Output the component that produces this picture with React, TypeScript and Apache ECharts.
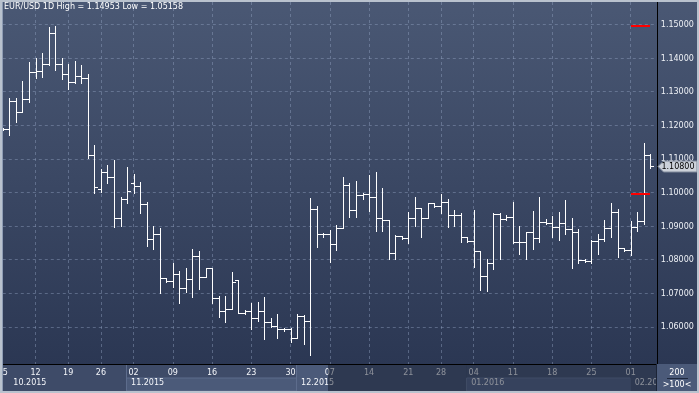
import React, { useEffect, useRef } from "react";
import * as echarts from "echarts";

const TITLE = "EUR/USD 1D High = 1.14953 Low = 1.05158";

const OPEN = [
  1.1189, 1.119, 1.1272, 1.1239, 1.1277, 1.136, 1.1363, 1.1382, 1.1474, 1.1382,
  1.1352, 1.133, 1.1348, 1.134, 1.1111, 1.101, 1.1061, 1.1045, 1.0924, 1.0981,
  1.1027, 1.1018, 1.0965, 1.0861, 1.0876, 1.0745, 1.0738, 1.0757, 1.0715, 1.0742,
  1.081, 1.0749, 1.0774, 1.0685, 1.0646, 1.0652, 1.074, 1.0642, 1.0646, 1.0626,
  1.0646, 1.0615, 1.0604, 1.0593, 1.0593, 1.0566, 1.0632, 1.0617, 1.095, 1.0877,
  1.0877, 1.0846, 1.0893, 1.1022, 1.0948, 1.0993, 1.0995, 1.0986, 1.0923, 1.0917,
  1.0819, 1.0871, 1.0866, 1.0923, 1.0953, 1.0923, 1.0968, 1.0961, 1.0973, 1.0934,
  1.0932, 1.0867, 1.0855, 1.0827, 1.0751, 1.0791, 1.0936, 1.092, 1.0926, 1.0852,
  1.0854, 1.0882, 1.0864, 1.0913, 1.091, 1.0898, 1.091, 1.089, 1.0883, 1.0799,
  1.0795, 1.0856, 1.0861, 1.0893, 1.0941, 1.0834, 1.0829, 1.0896, 1.0914, 1.1112,
];
const HIGH = [
  1.1192, 1.1282, 1.1282, 1.1332, 1.1389, 1.1399, 1.1414, 1.1492, 1.1495, 1.1399,
  1.1382, 1.1391, 1.1379, 1.1352, 1.1141, 1.1069, 1.1082, 1.1097, 1.0986, 1.1075,
  1.1055, 1.1031, 1.0972, 1.09, 1.0894, 1.0745, 1.079, 1.0766, 1.0774, 1.0831,
  1.0826, 1.0774, 1.0774, 1.0692, 1.0692, 1.0763, 1.074, 1.065, 1.0672, 1.0674,
  1.0689, 1.0626, 1.0638, 1.0598, 1.0598, 1.0638, 1.0635, 1.0983, 1.096, 1.088,
  1.0888, 1.0903, 1.1045, 1.1027, 1.1034, 1.0998, 1.1052, 1.106, 1.1012, 1.0918,
  1.0874, 1.0871, 1.0941, 1.0986, 1.0953, 1.0968, 1.0968, 1.0996, 1.098, 1.0948,
  1.0939, 1.0867, 1.0948, 1.0827, 1.0801, 1.094, 1.0938, 1.0932, 1.0971, 1.09,
  1.0883, 1.0945, 1.0986, 1.092, 1.093, 1.0942, 1.0978, 1.0924, 1.0891, 1.0801,
  1.0859, 1.0876, 1.0918, 1.0968, 1.095, 1.0834, 1.0916, 1.0943, 1.1146, 1.1115,
];
const LOW = [
  1.1186, 1.1171, 1.1211, 1.1239, 1.1268, 1.134, 1.1345, 1.1379, 1.1365, 1.1338,
  1.1308, 1.1325, 1.1325, 1.1102, 1.0998, 1.1002, 1.1029, 1.0896, 1.09, 1.0968,
  1.1, 1.094, 1.0842, 1.0833, 1.0702, 1.0735, 1.072, 1.0672, 1.0705, 1.069,
  1.0713, 1.0749, 1.0672, 1.063, 1.0615, 1.0652, 1.064, 1.0638, 1.0593, 1.0618,
  1.0565, 1.0601, 1.0568, 1.0589, 1.0556, 1.0566, 1.0549, 1.0516, 1.0837, 1.0868,
  1.0794, 1.0829, 1.0893, 1.0926, 1.0926, 1.098, 1.0946, 1.0886, 1.0886, 1.0803,
  1.0803, 1.0863, 1.0849, 1.09, 1.0869, 1.0923, 1.0958, 1.0938, 1.0898, 1.0901,
  1.0854, 1.0852, 1.0779, 1.071, 1.0708, 1.0771, 1.0802, 1.0918, 1.0849, 1.0817,
  1.0802, 1.0832, 1.0854, 1.0906, 1.0867, 1.0859, 1.0876, 1.0775, 1.0791, 1.0792,
  1.0791, 1.0817, 1.0857, 1.0867, 1.0809, 1.0827, 1.0815, 1.0885, 1.0905, 1.1072,
];
const CLOSE = [
  1.1189, 1.1272, 1.1239, 1.1277, 1.136, 1.1363, 1.1382, 1.1474, 1.1382, 1.1352,
  1.133, 1.1348, 1.134, 1.1111, 1.1015, 1.1061, 1.1045, 1.0924, 1.0981, 1.1004,
  1.1018, 1.0965, 1.0861, 1.0876, 1.0745, 1.0738, 1.0757, 1.0715, 1.0742, 1.081,
  1.0749, 1.0774, 1.0685, 1.0646, 1.0652, 1.0733, 1.0642, 1.0646, 1.0626, 1.0646,
  1.0615, 1.0604, 1.0593, 1.0593, 1.0566, 1.0632, 1.0617, 1.095, 1.0877, 1.0877,
  1.0846, 1.0893, 1.1022, 1.0948, 1.0993, 1.0995, 1.0986, 1.0923, 1.0917, 1.0819,
  1.0871, 1.0866, 1.0923, 1.0953, 1.0923, 1.0968, 1.0961, 1.0973, 1.0934, 1.0932,
  1.0867, 1.0855, 1.0827, 1.0751, 1.0791, 1.0936, 1.092, 1.0926, 1.0852, 1.0854,
  1.0882, 1.0864, 1.0913, 1.091, 1.0898, 1.091, 1.089, 1.0883, 1.0799, 1.0795,
  1.0856, 1.0861, 1.0893, 1.0941, 1.0834, 1.0829, 1.0896, 1.0914, 1.1112, 1.108,
];

const DAY_TICK_INDEX = [0, 5, 10, 15, 20, 26, 32, 38, 44, 50, 56, 62, 67, 72, 78, 84, 90, 96];
const DAY_TICK_LABEL = ["5", "12", "19", "26", "02", "09", "16", "23", "30", "07", "14", "21", "28", "04", "11", "18", "25", "01"];
const MONTH_INDEX = [1, 19, 45, 71, 96];
const MONTH_LABEL = ["10.2015", "11.2015", "12.2015", "01.2016", "02.2016"];

const Y_MIN_LABEL = 1.06;
const Y_MAX_LABEL = 1.15;
const Y_STEP = 0.01;
const LEVELS = [1.15, 1.1];
const LEVEL_FROM = 96;
const LEVEL_TO = 99;
const LAST_PRICE = 1.108;
const COUNTER_TOP = "200";
const COUNTER_BOTTOM = ">100<";

// layout (pixels)
const PLOT_TOP = 2;
const PLOT_BOTTOM = 364;
const PLOT_LEFT = 2.8;
const PLOT_RIGHT = 656.8;
const PX_PER_UNIT = 3360;
const REF_PRICE = 1.1;
const REF_Y = 192.5;
const FONT = "DejaVu Sans";

const yAt = (p: number) => REF_Y - (p - REF_PRICE) * PX_PER_UNIT;
const priceAt = (y: number) => REF_PRICE + (REF_Y - y) / PX_PER_UNIT;

export default function App() {
  const ref = useRef<HTMLDivElement>(null);

  useEffect(() => {
    if (!ref.current) return;
    const chart = echarts.init(ref.current, undefined, { renderer: "svg" });

    const n = OPEN.length + 1;
    const lastIdx = MONTH_INDEX[MONTH_INDEX.length - 1];
    const dayCats = Array.from({ length: n }, (_, i) =>
      i === 0 ? { value: String(i), textStyle: { align: "left" } } : String(i)
    );
    const monthCats = Array.from({ length: n }, (_, i) =>
      i === lastIdx
        ? {
            value: String(i),
            textStyle: { align: "left", padding: [0, 0, 0, 4], width: 28, overflow: "truncate", ellipsis: "" },
          }
        : String(i)
    );
    const ohlc = OPEN.map((o, i) => [i, o, HIGH[i], LOW[i], CLOSE[i]]);
    const daySet = new Map<number, string>();
    DAY_TICK_INDEX.forEach((idx, k) => daySet.set(idx, DAY_TICK_LABEL[k]));
    const monthSet = new Map<number, string>();
    MONTH_INDEX.forEach((idx, k) => monthSet.set(idx, MONTH_LABEL[k]));

    const g1Top = yAt(Y_MAX_LABEL);
    const g1Height = yAt(Y_MIN_LABEL) - g1Top;
    const gridW = PLOT_RIGHT - PLOT_LEFT;

    const dashColor = "rgba(150,166,198,0.42)";

    const option: any = {
      animation: false,
      title: {
        text: TITLE,
        left: 4,
        top: 2,
        padding: 0,
        textStyle: { color: "#ffffff", fontSize: 8, fontWeight: "normal", fontFamily: FONT },
      },
      grid: [
        { left: PLOT_LEFT, width: gridW, top: PLOT_TOP, height: PLOT_BOTTOM - PLOT_TOP, outerBoundsMode: "none" },
        { left: PLOT_LEFT, width: gridW, top: g1Top, height: g1Height, outerBoundsMode: "none" },
      ],
      xAxis: [
        {
          gridIndex: 0,
          type: "category",
          data: dayCats,
          boundaryGap: false,
          axisLine: { show: true, lineStyle: { color: "#000000", width: 1 } },
          axisTick: { show: false },
          axisLabel: {
            interval: (idx: number) => daySet.has(idx),
            formatter: (_v: string, idx: number) => daySet.get(idx) ?? "",
            color: "#f4f6fa",
            fontSize: 8,
            fontFamily: FONT,
            margin: 4,
          },
          splitLine: {
            show: true,
            interval: (idx: number) => daySet.has(idx) && idx > 0,
            lineStyle: { color: dashColor, type: [3, 3], width: 1 },
          },
        },
        {
          gridIndex: 1,
          type: "category",
          data: monthCats,
          boundaryGap: false,
          position: "bottom",
          offset: PLOT_BOTTOM - (g1Top + g1Height),
          axisLine: { show: false },
          axisTick: { show: false },
          splitLine: { show: false },
          axisLabel: {
            interval: (idx: number) => monthSet.has(idx),
            formatter: (_v: string, idx: number) => monthSet.get(idx) ?? "",
            color: "#f4f6fa",
            fontSize: 8,
            fontFamily: FONT,
            margin: 14,
            align: "left",
            padding: [0, 0, 0, 4],
          },
        },
      ],
      yAxis: [
        {
          gridIndex: 0,
          type: "value",
          position: "right",
          min: priceAt(PLOT_BOTTOM),
          max: priceAt(PLOT_TOP),
          axisLine: { show: true, lineStyle: { color: "#000000", width: 1 } },
          axisTick: { show: false },
          axisLabel: { show: false },
          splitLine: { show: false },
        },
        {
          gridIndex: 1,
          type: "value",
          position: "right",
          min: Y_MIN_LABEL,
          max: Y_MAX_LABEL,
          interval: Y_STEP,
          axisLine: { show: false },
          axisTick: { show: false },
          axisLabel: {
            formatter: (v: number) => v.toFixed(5),
            color: "#eef1f6",
            fontSize: 8,
            fontFamily: FONT,
            margin: 4,
          },
          splitLine: { show: true, lineStyle: { color: dashColor, type: [3, 3], width: 1 } },
        },
      ],
      series: [
        {
          type: "custom",
          name: "EUR/USD",
          xAxisIndex: 0,
          yAxisIndex: 0,
          clip: true,
          data: ohlc,
          encode: { x: 0, y: [1, 2, 3, 4] },
          renderItem: (_params: any, api: any) => {
            const i = api.value(0);
            const o = api.coord([i, api.value(1)]);
            const h = api.coord([i, api.value(2)]);
            const l = api.coord([i, api.value(3)]);
            const c = api.coord([i, api.value(4)]);
            const X = Math.round(o[0]);
            const x = X + 0.5;
            const st = { stroke: "#ffffff", lineWidth: 1 };
            const yo = Math.round(o[1]) + 0.5;
            const yc = Math.round(c[1]) + 0.5;
            return {
              type: "group",
              children: [
                { type: "line", shape: { x1: x, y1: Math.round(h[1]), x2: x, y2: Math.round(l[1]) + 1 }, style: st },
                { type: "line", shape: { x1: X - 3, y1: yo, x2: X, y2: yo }, style: st },
                { type: "line", shape: { x1: X + 1, y1: yc, x2: X + 4, y2: yc }, style: st },
              ],
            };
          },
        },
        {
          type: "custom",
          name: "levels",
          xAxisIndex: 0,
          yAxisIndex: 0,
          clip: false,
          data: LEVELS.map((v) => [LEVEL_FROM, v, LEVEL_TO]),
          encode: { x: [0, 2], y: 1 },
          renderItem: (_params: any, api: any) => {
            const a = api.coord([api.value(0), api.value(1)]);
            const b = api.coord([api.value(2), api.value(1)]);
            const y = Math.round(a[1]) + 1;
            return {
              type: "line",
              shape: { x1: Math.round(a[0]), y1: y, x2: Math.round(b[0]), y2: y },
              style: { stroke: "#ff0000", lineWidth: 2 },
            };
          },
        },
        {
          type: "custom",
          name: "last",
          xAxisIndex: 0,
          yAxisIndex: 0,
          clip: false,
          z: 20,
          data: [[OPEN.length - 1, LAST_PRICE]],
          encode: { x: 0, y: 1 },
          renderItem: (params: any, api: any) => {
            const p = api.coord([api.value(0), api.value(1)]);
            const cs = params.coordSys;
            const xl = Math.round(cs.x + cs.width) + 1;
            const y = Math.round(p[1]);
            return {
              type: "group",
              children: [
                {
                  type: "polygon",
                  shape: {
                    points: [
                      [xl, y + 0.5],
                      [xl + 5.5, y - 5],
                      [697, y - 5],
                      [697, y + 6],
                      [xl + 5.5, y + 6],
                    ],
                  },
                  style: { fill: "#ccd1d9", stroke: "#7e889a", lineWidth: 1 },
                },
                {
                  type: "text",
                  style: {
                    text: LAST_PRICE.toFixed(5),
                    x: 678,
                    y: y + 0.5,
                    align: "center",
                    verticalAlign: "middle",
                    fill: "#000000",
                    font: `8px ${FONT}`,
                  },
                },
              ],
            };
          },
        },
      ],
      graphic: [
        {
          type: "rect",
          z: -10,
          shape: { x: 0, y: 0, width: 699, height: 393 },
          style: {
            fill: {
              type: "linear", x: 0, y: 0, x2: 0, y2: 1,
              colorStops: [
                { offset: 0, color: "#4a5874" },
                { offset: 0.93, color: "#2b3753" },
                { offset: 1, color: "#2a3551" },
              ],
            },
          },
        },
        // axis strip base
        { type: "rect", z: -9, shape: { x: 2, y: 364, width: 655, height: 27 }, style: { fill: "#3e4b68" } },
        // Nov month row band
        { type: "rect", z: -9, shape: { x: 126.5, y: 378, width: 170, height: 13 }, style: { fill: "#4b5a79", stroke: "#5d6c8c", lineWidth: 1 } },
        // Dec band both rows
        { type: "rect", z: -9, shape: { x: 296.5, y: 365, width: 170, height: 26 }, style: { fill: "#4b5a79" } },
        { type: "line", z: -8, shape: { x1: 296.5, y1: 365, x2: 296.5, y2: 391 }, style: { stroke: "#5d6c8c", lineWidth: 1 } },
        { type: "line", z: -8, shape: { x1: 126.5, y1: 365, x2: 126.5, y2: 391 }, style: { stroke: "#5d6c8c", lineWidth: 1 } },
        // Jan
        { type: "rect", z: -9, shape: { x: 466.5, y: 365, width: 164, height: 13 }, style: { fill: "#4b5a79" } },
        { type: "rect", z: -9, shape: { x: 466.5, y: 378, width: 164, height: 13 }, style: { fill: "#5a6a8e", stroke: "#6a7a9c", lineWidth: 1 } },
        // Feb
        { type: "rect", z: -9, shape: { x: 630.5, y: 365, width: 26, height: 26 }, style: { fill: "#4b5a79" } },
        // dimming overlay on part of the axis strip
        { type: "rect", z: 100, shape: { x: 328, y: 365, width: 328.5, height: 26 }, style: { fill: "rgba(12,18,34,0.45)" } },
        { type: "line", z: 101, shape: { x1: 656.5, y1: 364, x2: 656.5, y2: 391 }, style: { stroke: "#1c2436", lineWidth: 1 } },
        // bottom right box
        { type: "rect", z: 101, shape: { x: 657, y: 364, width: 40, height: 27 }, style: { fill: "#4b5a79" } },
        {
          type: "text", z: 102,
          style: { text: COUNTER_TOP, x: 677, y: 372, align: "center", verticalAlign: "middle", fill: "#ffffff", font: `8px ${FONT}` },
        },
        { type: "line", z: 102, shape: { x1: 667, y1: 378.5, x2: 688, y2: 378.5 }, style: { stroke: "#1e283e", lineWidth: 1 } },
        {
          type: "text", z: 102,
          style: { text: COUNTER_BOTTOM, x: 677, y: 384.5, align: "center", verticalAlign: "middle", fill: "#ffffff", font: `8px ${FONT}` },
        },
        // outer border
        {
          type: "rect", z: 110,
          shape: { x: 1, y: 1, width: 697, height: 391 },
          style: { fill: "none", stroke: "#b9c2ce", lineWidth: 2 },
        },
        { type: "line", z: 110, shape: { x1: 2.5, y1: 2, x2: 2.5, y2: 391 }, style: { stroke: "#8e9cb4", lineWidth: 1 } },
      ],
    };

    chart.setOption(option);
    return () => chart.dispose();
  }, []);

  return (
    <div
      ref={ref}
      style={{ position: "fixed", left: 0, top: 0, width: 699, height: 393 }}
    />
  );
}
